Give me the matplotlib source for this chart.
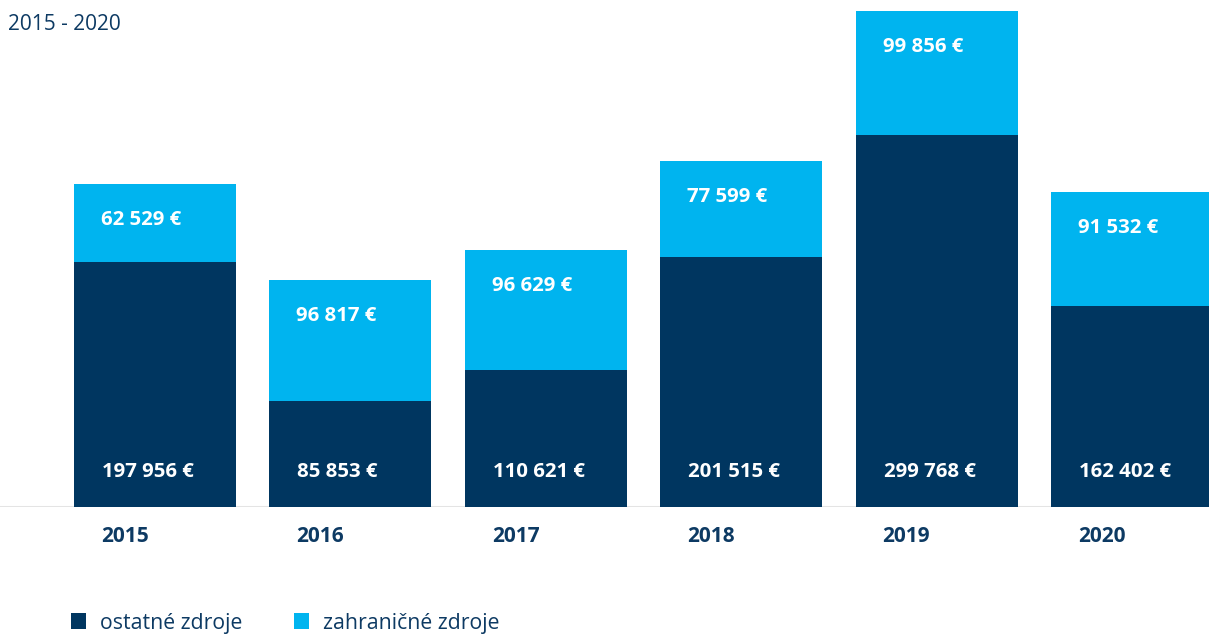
import matplotlib
matplotlib.use("Agg")
import matplotlib.pyplot as plt
from matplotlib.patches import Patch

years = ["2015", "2016", "2017", "2018", "2019", "2020"]
ostatne = [197956, 85853, 110621, 201515, 299768, 162402]
zahranicne = [62529, 96817, 96629, 77599, 99856, 91532]
series_names = ["ostatné zdroje", "zahraničné zdroje"]
title = "2015 - 2020"

NAVY = "#003660"
CYAN = "#00b4ef"
TEXT = "#0d3a63"

def fmt(v):
    return f"{v:,}".replace(",", " ") + " €"

plt.rcParams['font.family'] = ['Open Sans', 'DejaVu Sans']

W, H = 1209, 635
fig = plt.figure(figsize=(W / 100, H / 100), dpi=100)
base_px = 507
ax = fig.add_axes([0, (H - base_px) / H, 1, base_px / H])

x = list(range(len(years)))
width = 0.83
ax.bar(x, ostatne, width=width, color=NAVY, zorder=2)
ax.bar(x, zahranicne, width=width, bottom=ostatne, color=CYAN, zorder=2)

step = 195.5
ax.set_xlim(-155 / step, 5 + (W - 1132) / step)
ax.set_ylim(0, base_px / 1.24 * 1000)
ax.axis('off')
ax.axhline(0, xmin=0, xmax=1125 / W, color="#e4e4e4", lw=2.2, zorder=1)

for xi, o, z, yr in zip(x, ostatne, zahranicne, years):
    left = xi - width / 2
    ax.annotate(fmt(o), (left, 0), xytext=(28, 35), textcoords='offset pixels',
                ha='left', va='center', color='white', fontsize=14.7, fontweight='bold', zorder=3)
    ax.annotate(fmt(z), (left, o + z), xytext=(27, -36), textcoords='offset pixels',
                ha='left', va='center', color='white', fontsize=14.7, fontweight='bold', zorder=3)
    ax.annotate(yr, (left, 0), xytext=(27, -29), textcoords='offset pixels',
                ha='left', va='center', color=TEXT, fontsize=15, fontweight='bold',
                annotation_clip=False)

fig.text(8 / W, 1 - 24 / H, title, ha='left', va='center', color=TEXT, fontsize=15)

handles = [Patch(facecolor=NAVY, edgecolor='none'), Patch(facecolor=CYAN, edgecolor='none')]
fig.legend(handles, series_names, loc='center left', bbox_to_anchor=(52 / W, 1 - 623 / H),
           ncol=2, frameon=False, fontsize=15.3, labelcolor=TEXT,
           handlelength=0.72, handleheight=0.72, handletextpad=0.62, columnspacing=2.45)

fig.savefig("out.png", dpi=100)
